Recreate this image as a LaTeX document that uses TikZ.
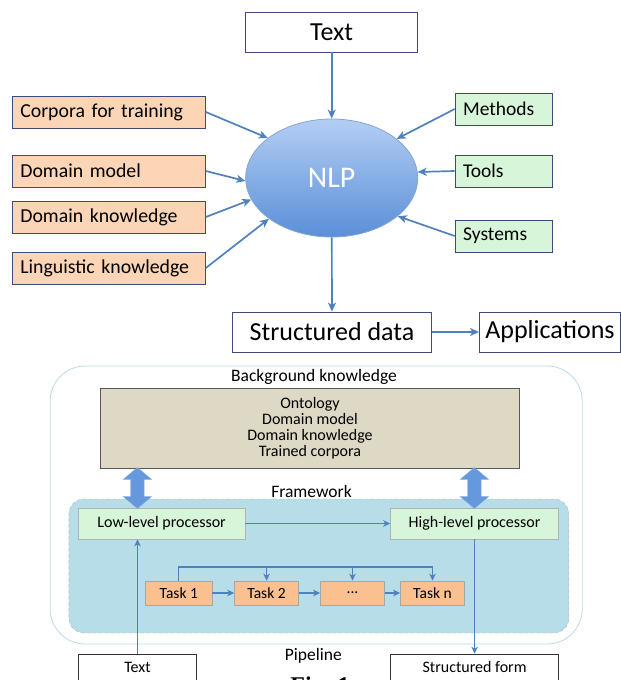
\documentclass[tikz,border=0pt]{standalone}
\usepackage{fontspec}
\setmainfont{Carlito}
\newfontfamily\capfont{Liberation Serif}
\usetikzlibrary{arrows.meta}
\usetikzlibrary{shapes.geometric,shapes.arrows}

\definecolor{flowblue}{HTML}{4F81BD}
\definecolor{boxline}{HTML}{3F4A7A}
\definecolor{peach}{HTML}{FBD5B5}
\definecolor{mint}{HTML}{D7F5D9}
\definecolor{nlptop}{HTML}{B3CEF3}
\definecolor{nlpbot}{HTML}{5A8FD8}
\definecolor{tan}{HTML}{DDD9C4}
\definecolor{framefill}{HTML}{B7DEE8}
\definecolor{taskfill}{HTML}{FAC090}
\definecolor{linkblue}{HTML}{6598DD}

\tikzset{
  flow/.style={draw=flowblue, line width=1.7pt, ->, >={Stealth[length=9pt, width=8pt, inset=2.5pt]}},
  flowsmall/.style={draw=flowblue, line width=1.3pt, ->, >={Stealth[length=7pt, width=6.5pt, inset=2pt]}},
  bigbox/.style={draw=boxline, fill=white, line width=0.9pt, minimum height=40pt,
    font=\fontsize{26}{30}\selectfont},
  srcbox/.style={draw=boxline, fill=peach, line width=0.9pt, anchor=west,
    minimum height=32pt, inner xsep=8pt, text width=177pt,
    font=\fontsize{19.8}{22}\selectfont},
  toolbox/.style={draw=boxline, fill=mint, line width=0.9pt, anchor=west,
    minimum height=32pt, inner xsep=8pt, text width=81pt,
    font=\fontsize{19.5}{22}\selectfont},
  procbox/.style={draw=gray!60, fill=mint, line width=0.6pt, minimum height=31pt,
    font=\fontsize{16}{18}\selectfont},
  taskbox/.style={draw=gray!70, fill=taskfill, line width=0.6pt, minimum height=24pt,
    minimum width=64pt, font=\fontsize{15.5}{18}\selectfont},
  endbox/.style={draw=black!80, fill=white, line width=0.6pt, minimum height=26pt,
    font=\fontsize{16}{18}\selectfont},
  label/.style={font=\fontsize{17.5}{20}\selectfont},
  linkarrow/.style={double arrow, draw=linkblue!80, fill=linkblue,
    inner xsep=0pt, inner ysep=6.5pt, minimum height=41pt, minimum width=28pt,
    double arrow head extend=7.5pt, double arrow tip angle=100, rotate=90}
}

\begin{document}
\begin{tikzpicture}[x=1pt, y=-1pt]
\useasboundingbox (0,0) rectangle (621,680);
\clip (0,0) rectangle (621,680);

% upper diagram
\node[bigbox, minimum width=172pt] (text) at (331.7,32) {Text};
\node[ellipse, draw=flowblue!70, line width=0.8pt, top color=nlptop, bottom color=nlpbot,
  minimum width=172pt, minimum height=118pt, inner sep=0pt, text=white,
  font=\fontsize{30}{34}\selectfont] (nlp) at (331.7,178) {NLP};

\node[srcbox] (corpora) at (11.9,112) {Corpora for training};
\node[srcbox] (dmodel) at (11.9,171) {Domain model};
\node[srcbox] (dknow) at (11.9,217) {Domain knowledge};
\node[srcbox] (ling) at (11.9,268) {Linguistic knowledge};

\node[toolbox] (methods) at (454.7,109) {Methods};
\node[toolbox] (tools) at (454.7,171) {Tools};
\node[toolbox] (systems) at (454.7,236) {Systems};

\node[bigbox, minimum width=199pt] (sdata) at (332,332) {Structured data};
\node[bigbox, anchor=west, minimum width=141pt, inner xsep=0pt] (apps) at (479,332) {Applications};

\draw[flow] (text) -- (nlp);
\foreach \src/\ang in {corpora/148.7, dmodel/182.6, dknow/195.7, ling/213.5}
  \draw[flow] (\src.east) -- (nlp.\ang);
\foreach \src/\ang in {methods/31.9, tools/4, systems/-30.5}
  \draw[flow] (\src.west) -- (nlp.\ang);
\draw[flow] (nlp) -- (sdata);
\draw[flow] (sdata) -- (apps);

% lower diagram
\node[draw=gray!50!cyan!40, line width=0.8pt, rounded corners=35pt,
  minimum width=532pt, minimum height=278pt] (bk) at (316.2,505) {};
\node[label] (bklabel) at (314,377) {Background knowledge};
\node[draw=black!65, fill=tan, line width=0.8pt, minimum width=419.5pt, minimum height=80pt,
  align=center, font=\fontsize{16}{16}\selectfont] (onto) at (310,428)
  {Ontology\\Domain model\\Domain knowledge\\Trained corpora};

\node[draw=gray!60, dashed, fill=framefill, rounded corners=15pt,
  minimum width=500pt, minimum height=134pt] (fw) at (318.9,566) {};
\node[label] (fwlabel) at (311.5,491) {Framework};

\node[procbox, minimum width=166.4pt] (low) at (161.6,523.5) {Low-level processor};
\node[procbox, minimum width=168.2pt] (high) at (474.6,523.5) {High-level processor};

\node[linkarrow] (link1) at (137.4,488) {};
\node[linkarrow] (link2) at (474.4,488) {};

\node[taskbox, minimum width=66.7pt] (t1) at (178.8,593) {Task 1};
\node[taskbox] (t2) at (266.6,593) {Task 2};
\node[taskbox] (t3) at (352.5,593) {...};
\node[taskbox] (tn) at (432.5,593) {Task n};

\draw[flowsmall] (low) -- (high);
\foreach \a/\b in {t1/t2, t2/t3, t3/tn}
  \draw[flowsmall] (\a) -- (\b);
\coordinate (bus) at (t1.north |- 0,567);
\draw[flowsmall] (t1.north) -- (bus) -| (tn.north);
\draw[flowsmall] (bus -| t2.north) -- (t2.north);
\draw[flowsmall] (bus -| t3.north) -- (t3.north);

\node[endbox, minimum width=118pt] (txt) at (137.5,667) {Text};
\node[endbox, minimum width=168pt] (form) at (474.6,667) {Structured form};
\node[label] (pipe) at (313.3,656) {Pipeline};
\node[anchor=base, font=\capfont\bfseries\fontsize{24}{24}\selectfont] (cap) at (320,693) {Fig. 1};

\draw[flowsmall] (txt.north) -- (txt.north |- low.south);
\draw[flowsmall] (high.south) -- (form.north);
\end{tikzpicture}
\end{document}
